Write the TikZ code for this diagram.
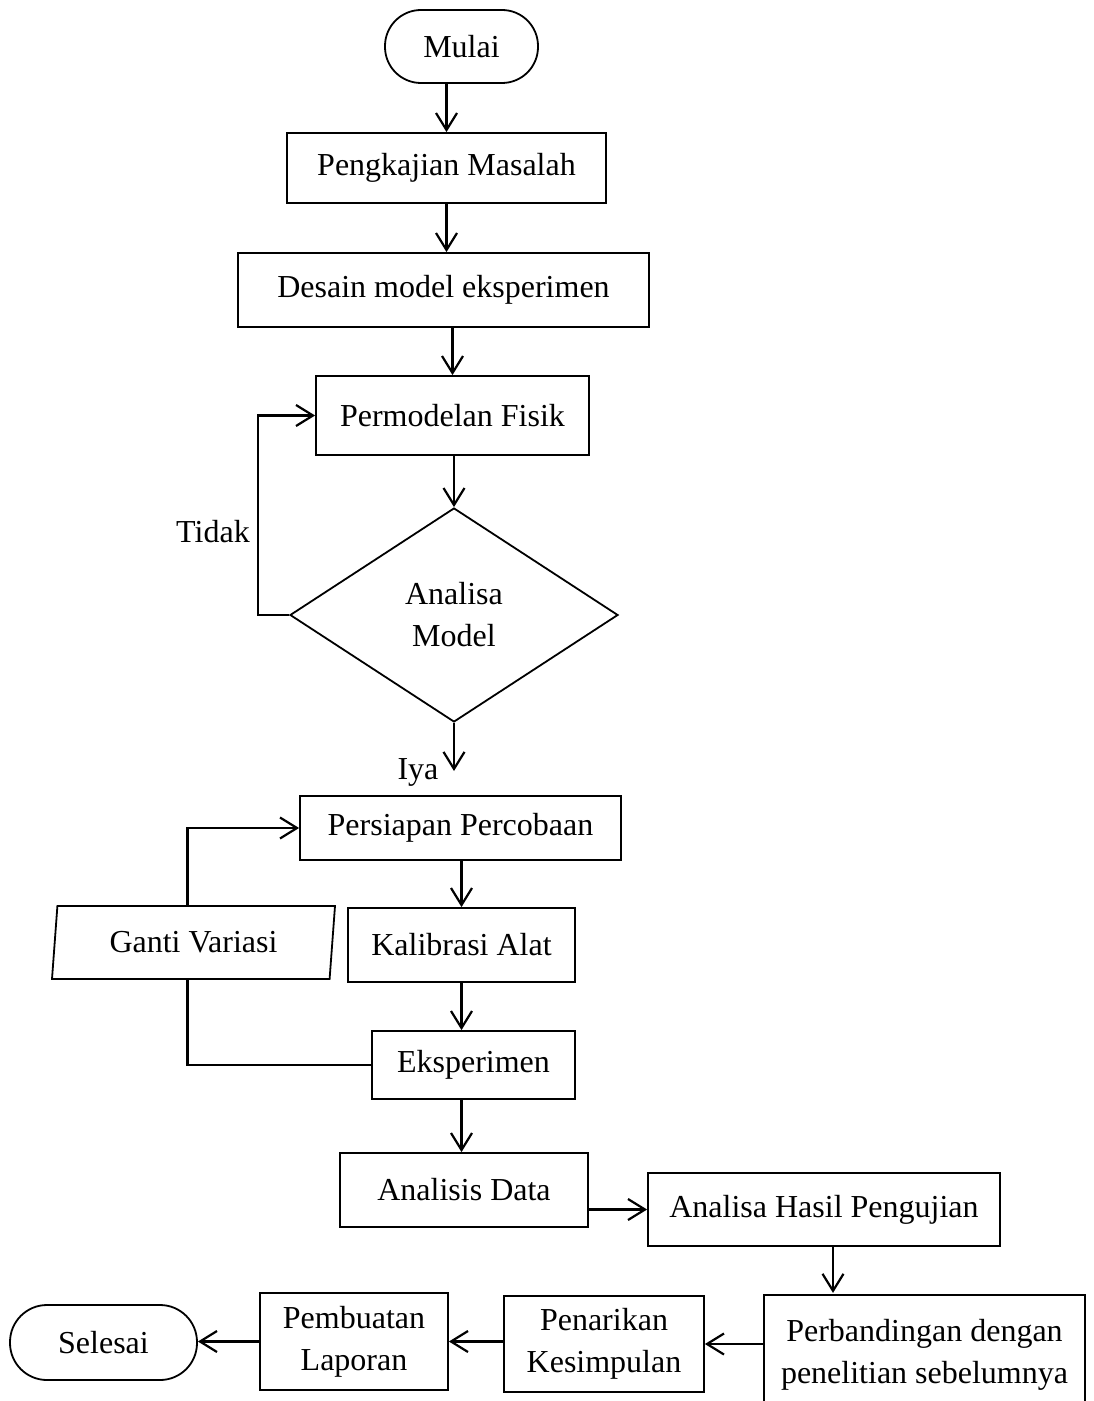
\documentclass[tikz,border=0pt]{standalone}
\usepackage{fontspec}
\setmainfont{Liberation Serif}
\usepackage{tikz}
\usetikzlibrary{shapes.geometric, arrows.meta}
\tikzset{
  te/.style={rectangle, rounded corners=18pt, inner sep=0pt, text centered, draw=black, line width=0.9pt},
  pr/.style={rectangle, inner sep=0pt, text centered, align=center, draw=black, line width=0.9pt},
  io/.style={trapezium, trapezium left angle=76, trapezium right angle=104, trapezium stretches body=true, inner sep=0pt, text centered, draw=black, line width=0.9pt},
  de/.style={diamond, inner sep=0pt, text centered, align=center, draw=black, line width=0.9pt},
  ar/.style={line width=1.1pt, -{Straight Barb[length=8.5pt, width=10.5pt]}},
  ln/.style={line width=1.1pt}
}

\begin{document}
\begin{tikzpicture}[x=0.5pt, y=-0.5pt, font=\fontsize{16}{21}\selectfont]
\useasboundingbox (0,0) rectangle (1093,1401);

% kolom utama
\node[te, minimum width=76.5pt, minimum height=36.5pt] (mulai) at (461.5,46.5) {Mulai};
\node[pr, minimum width=159.5pt, minimum height=35pt] (kaji) at (446.5,168) {Pengkajian Masalah};
\node[pr, minimum width=205.5pt, minimum height=37pt] (desain) at (443.5,290) {Desain model eksperimen};
\node[pr, minimum width=136.5pt, minimum height=39.5pt] (fisik) at (452.5,415.5) {Permodelan Fisik};
\node[de, minimum width=164pt, minimum height=107pt] (analisa) at (454,615) {Analisa\\Model};
\node[pr, minimum width=160.5pt, minimum height=32pt] (siap) at (460.5,828) {Persiapan Percobaan};
\node[pr, minimum width=113.5pt, minimum height=37pt] (kalibrasi) at (461.5,945) {Kalibrasi Alat};
\node[io, minimum width=141.5pt, minimum height=36.5pt] (ganti) at (193.5,942.5) {Ganti Variasi};
\node[pr, minimum width=101.5pt, minimum height=34pt] (eksp) at (473.5,1065) {Eksperimen};
\node[pr, minimum width=124pt, minimum height=37pt] (data) at (464,1190) {Analisis Data};
\node[pr, minimum width=176pt, minimum height=36.5pt] (hasil) at (824,1209.5) {Analisa Hasil Pengujian};

% baris bawah
\node[pr, minimum width=160.5pt, minimum height=60pt] (banding) at (924.5,1355) {Perbandingan dengan\\penelitian sebelumnya};
\node[pr, minimum width=100pt, minimum height=48pt] (tarik) at (604,1344) {Penarikan\\Kesimpulan};
\node[pr, minimum width=94pt, minimum height=48.5pt] (buat) at (354,1341.5) {Pembuatan\\Laporan};
\node[te, rounded corners=18.5pt, minimum width=93.5pt, minimum height=37.5pt] (selesai) at (103.5,1342.5) {Selesai};

\node (tidak) at (213,532) {Tidak};
\node (iya) at (418,772) {Iya};
\coordinate (iyaend) at (454,771);

\draw[ar] (mulai.south -| kaji) -- (kaji.north);
\draw[ar] (kaji.south) -- (kaji.south |- desain.north);
\draw[ar] (desain.south -| fisik) -- (fisik.north);
\draw[ar] (fisik.south -| analisa.north) -- (analisa.north);
\draw[ar] (analisa.west) -- ++(-31,0) |- (fisik.west);
\draw[ar] (analisa.south) -- (iyaend);
\draw[ar] (siap.south -| kalibrasi) -- (kalibrasi.north);
\draw[ar] (kalibrasi.south) -- (kalibrasi.south |- eksp.north);
\draw[ar] (eksp.south -| kalibrasi) -- (data.north -| kalibrasi);
\draw[ar] ([xshift=-3pt]ganti.north) |- (siap.west);
\draw[ln] (eksp.west) -| ([xshift=-3pt]ganti.south);
\draw[ar] (data.east |- hasil) -- (hasil.west);
\draw[ar] ([xshift=4.5pt]hasil.south) -- ++(0,46);
\draw[ar] (banding.west |- tarik) -- (tarik.east);
\draw[ar] (tarik.west |- buat) -- (buat.east);
\draw[ar] (buat.west) -- (buat.west -| selesai.east);
\end{tikzpicture}
\end{document}
